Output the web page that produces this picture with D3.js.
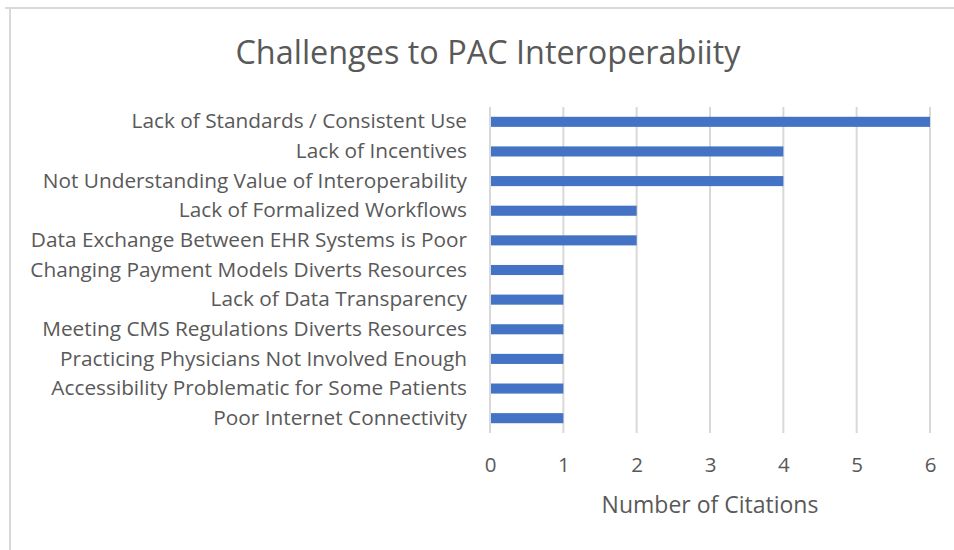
<!DOCTYPE html>
<html>
<head>
<meta charset="utf-8">
<script src="https://cdn.jsdelivr.net/npm/d3@7"></script>
<style>
  html, body { margin: 0; padding: 0; background: #fff; }
  svg { display: block; }
  text { font-family: "Open Sans", Lato, sans-serif; fill: #595959; }
</style>
</head>
<body>
<svg id="chart" width="954" height="550"></svg>
<script>
const categories = [
  "Lack of Standards / Consistent Use",
  "Lack of Incentives",
  "Not Understanding Value of Interoperability",
  "Lack of Formalized Workflows",
  "Data Exchange Between EHR Systems is Poor",
  "Changing Payment Models Diverts Resources",
  "Lack of Data Transparency",
  "Meeting CMS Regulations Diverts Resources",
  "Practicing Physicians Not Involved Enough",
  "Accessibility Problematic for Some Patients",
  "Poor Internet Connectivity"
];
const citations = [6, 4, 4, 2, 2, 1, 1, 1, 1, 1, 1];
const xTicks = [0, 1, 2, 3, 4, 5, 6];
const title = "Challenges to PAC Interoperabiity";
const xTitle = "Number of Citations";

const FONT = '"Open Sans", Lato, sans-serif';
const svg = d3.select("#chart");
const W = 954, H = 550;
const plot = { left: 490, right: 930, top: 107, bottom: 433 };

// chart border (partial frame as in reference)
svg.append("line").attr("x1", 5).attr("x2", W).attr("y1", 8).attr("y2", 8)
  .attr("stroke", "#d9d9d9").attr("stroke-width", 2);
svg.append("line").attr("x1", 10).attr("x2", 10).attr("y1", 8).attr("y2", H)
  .attr("stroke", "#d9d9d9").attr("stroke-width", 2);

const x = d3.scaleLinear().domain([0, 6]).range([plot.left, plot.right]);
const y = d3.scaleBand().domain(categories).range([plot.top, plot.bottom]).paddingInner(0.66).paddingOuter(0.33);

// gridlines
svg.append("g").selectAll("line").data(xTicks).join("line")
  .attr("x1", d => x(d)).attr("x2", d => x(d))
  .attr("y1", plot.top).attr("y2", plot.bottom)
  .attr("stroke", "#d9d9d9").attr("stroke-width", 2);

// bars
svg.append("g").selectAll("rect").data(categories).join("rect")
  .attr("x", x(0) + 1)
  .attr("y", d => y(d))
  .attr("width", (d, i) => x(citations[i]) - x(0) - 1)
  .attr("height", y.bandwidth())
  .attr("fill", "#4472C4");

// category axis labels
const yAxis = d3.axisLeft(y).tickSize(0).tickPadding(23);
const gy = svg.append("g").attr("transform", `translate(${plot.left},0)`).call(yAxis);
gy.select(".domain").remove();
gy.selectAll("text").attr("font-size", 20.8).style("font-family", FONT).attr("fill", "#595959");

// value axis
const xAxis = d3.axisBottom(x).tickValues(xTicks).tickSize(0).tickPadding(24).tickFormat(d3.format("d"));
const gx = svg.append("g").attr("transform", `translate(0,${plot.bottom})`).call(xAxis);
gx.select(".domain").remove();
gx.selectAll("text").attr("font-size", 20.5).style("font-family", FONT).attr("fill", "#595959");

// title
svg.append("text").attr("x", 488).attr("y", 64).attr("text-anchor", "middle")
  .attr("font-size", 32.4).text(title);

// axis title
svg.append("text").attr("x", 710).attr("y", 513).attr("text-anchor", "middle")
  .attr("font-size", 23).text(xTitle);
</script>
</body>
</html>
